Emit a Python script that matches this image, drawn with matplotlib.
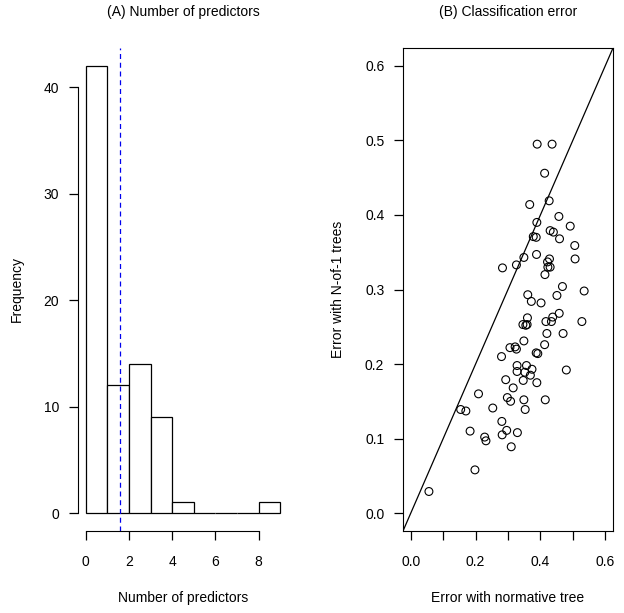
import numpy as np
import matplotlib
matplotlib.use("Agg")
import matplotlib.pyplot as plt

plt.rcParams['font.family'] = ['Liberation Sans', 'DejaVu Sans']

# histogram of number of predictors
bin_edges = [0, 1, 2, 3, 4, 5, 6, 7, 8, 9]
bin_counts = [42, 12, 14, 9, 1, 0, 0, 0, 1]
mean_predictors = 1.6

# classification error: normative tree vs N-of-1 trees
err_normative = [0.390, 0.436, 0.413, 0.427, 0.367, 0.457, 0.389, 0.492, 0.430, 0.440,
                 0.378, 0.387, 0.459, 0.506, 0.388, 0.349, 0.428, 0.507, 0.422, 0.326,
                 0.283, 0.423, 0.430, 0.414, 0.468, 0.535, 0.361, 0.451, 0.372, 0.402,
                 0.458, 0.360, 0.438, 0.417, 0.434, 0.528, 0.346, 0.355, 0.359, 0.420,
                 0.470, 0.349, 0.413, 0.306, 0.322, 0.326, 0.387, 0.392, 0.280, 0.328,
                 0.357, 0.374, 0.480, 0.328, 0.352, 0.369, 0.293, 0.347, 0.389, 0.316,
                 0.209, 0.298, 0.308, 0.349, 0.415, 0.253, 0.154, 0.170, 0.353, 0.281,
                 0.183, 0.296, 0.282, 0.329, 0.228, 0.232, 0.310, 0.198, 0.056]
err_nof1 = [0.495, 0.495, 0.456, 0.419, 0.414, 0.398, 0.390, 0.385, 0.379, 0.377,
            0.371, 0.370, 0.368, 0.359, 0.347, 0.343, 0.341, 0.341, 0.337, 0.333,
            0.329, 0.330, 0.330, 0.320, 0.304, 0.298, 0.293, 0.292, 0.284, 0.282,
            0.268, 0.262, 0.263, 0.257, 0.257, 0.257, 0.253, 0.252, 0.253, 0.241,
            0.241, 0.231, 0.226, 0.222, 0.223, 0.220, 0.215, 0.214, 0.210, 0.198,
            0.198, 0.193, 0.192, 0.190, 0.189, 0.185, 0.179, 0.178, 0.175, 0.168,
            0.160, 0.155, 0.150, 0.152, 0.152, 0.141, 0.139, 0.137, 0.139, 0.123,
            0.110, 0.111, 0.105, 0.108, 0.102, 0.097, 0.089, 0.058, 0.029]

W, H = 624, 613
fig = plt.figure(figsize=(W / 100, H / 100), dpi=100)

def box(x0, x1, y0, y1):
    return [x0 / W, 1 - y1 / H, (x1 - x0) / W, (y1 - y0) / H]

fs = 10

# (A) histogram
ax1 = fig.add_axes(box(78, 288, 48, 531))
ax1.bar(bin_edges[:-1], bin_counts, width=np.diff(bin_edges), align='edge',
        facecolor='white', edgecolor='black', linewidth=0.9)
ax1.axvline(mean_predictors, color='#0000ee', linestyle=(0, (4, 3)), linewidth=0.9)
ax1.set_xlim(-0.36, 9.36)
ax1.set_ylim(-1.68, 43.68)
ax1.set_xticks([0, 2, 4, 6, 8])
ax1.set_yticks([0, 10, 20, 30, 40])
for s in ['top', 'right']:
    ax1.spines[s].set_visible(False)
ax1.spines['bottom'].set_bounds(0, 8)
ax1.spines['left'].set_bounds(0, 40)
ax1.tick_params(labelsize=fs, length=6.5, width=0.9, pad=7)
ax1.tick_params(axis='x', pad=10.5)
ax1.set_xlabel("Number of predictors", fontsize=fs, labelpad=16)
ax1.set_ylabel("Frequency", fontsize=fs, labelpad=14)
ax1.set_title("(A) Number of predictors", fontsize=fs, pad=23)

# (B) scatter
ax2 = fig.add_axes(box(403, 613, 48, 531))
ax2.scatter(err_normative, err_nof1, s=32, facecolors='none', edgecolors='black',
            linewidths=0.8, zorder=3)
ax2.axline((0, 0), slope=1, color='black', linewidth=0.9)
ax2.set_xlim(-0.024, 0.624)
ax2.set_ylim(-0.024, 0.624)
ticks = [0.0, 0.1, 0.2, 0.3, 0.4, 0.5, 0.6]
ax2.set_xticks(ticks)
ax2.set_xticklabels(["0.0", "", "0.2", "", "0.4", "", "0.6"])
ax2.set_yticks(ticks)
ax2.set_yticklabels(["%.1f" % t for t in ticks])
ax2.tick_params(labelsize=fs, length=6.5, width=0.9, pad=7)
ax2.tick_params(axis='x', pad=10.5)
ax2.set_xlabel("Error with normative tree", fontsize=fs, labelpad=16)
ax2.set_ylabel("Error with N-of-1 trees", fontsize=fs, labelpad=14)
ax2.set_title("(B) Classification error", fontsize=fs, pad=23)

fig.savefig("out.png", dpi=100)
